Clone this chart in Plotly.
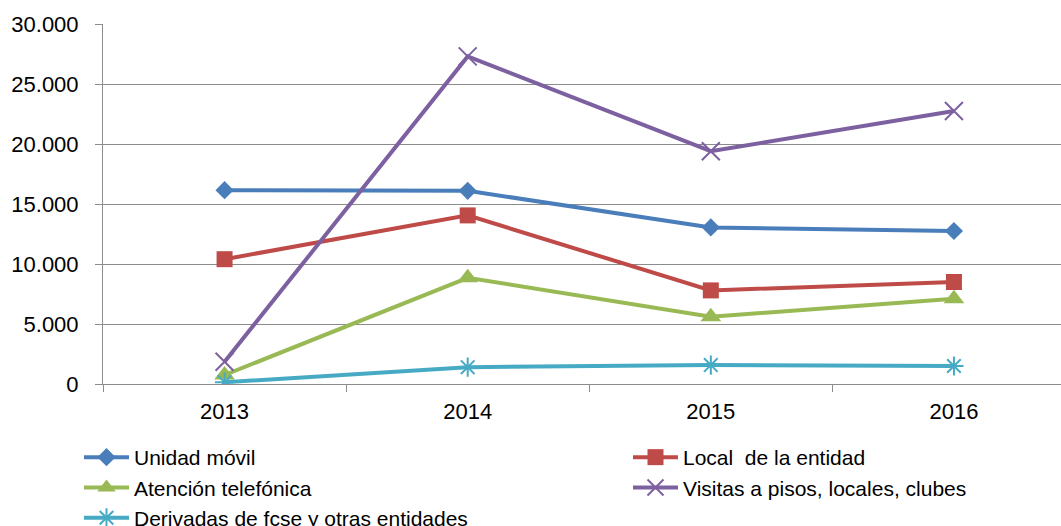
import plotly.graph_objects as go

# Yearly counts per contact channel
years = ["2013", "2014", "2015", "2016"]
unidad_movil = [16150, 16100, 13050, 12750]
local_entidad = [10400, 14050, 7800, 8500]
atencion_telefonica = [750, 8850, 5600, 7100]
visitas_pisos = [1850, 27300, 19400, 22750]
derivadas = [150, 1400, 1580, 1500]

# name, values, colour, marker symbol, marker size, legend column
series = [
    ("Unidad móvil", unidad_movil, "#4A7EBB", "diamond", 14, "legend"),
    ("Local  de la entidad", local_entidad, "#BE4B48", "square", 16, "legend2"),
    ("Atención telefónica", atencion_telefonica, "#98B954", "triangle-up", 18, "legend"),
    ("Visitas a pisos, locales, clubes", visitas_pisos, "#7D60A0", "x-thin", 18, "legend2"),
    ("Derivadas de fcse y otras entidades", derivadas, "#46AAC5", "asterisk", 16, "legend"),
]

xpos = list(range(len(years)))

fig = go.Figure()
for name, vals, color, symbol, size, leg in series:
    open_marker = symbol in ("x-thin", "asterisk")
    fig.add_trace(go.Scatter(
        x=xpos, y=vals, name=name, mode="lines+markers", legend=leg,
        line=dict(color=color, width=4),
        marker=dict(symbol=symbol, size=size, color=color,
                    line=dict(color=color, width=2 if open_marker else 0)),
    ))

font = "Liberation Sans, Arial, sans-serif"
grid = "#8C8C8C"
W, H = 1061, 526

legend_common = dict(
    orientation="v", xref="container", yref="container",
    xanchor="left", yanchor="top", itemwidth=45, tracegroupgap=0,
    font=dict(family=font, size=21, color="#000000"),
    bgcolor="rgba(0,0,0,0)", traceorder="normal",
)

fig.update_layout(
    width=W, height=H,
    margin=dict(l=103, r=0, t=24, b=142, autoexpand=False),
    paper_bgcolor="white", plot_bgcolor="white",
    separators=",.",
    font=dict(family=font, size=22, color="#000000"),
    showlegend=True,
    legend=dict(legend_common, x=79 / W, y=1 - 437 / H),
    legend2=dict(legend_common, x=628 / W, y=1 - 437 / H),
    xaxis=dict(
        range=[-0.5, -0.5 + 957.5 / 243],
        tickvals=xpos, ticktext=years,
        ticks="", showgrid=False, zeroline=False,
        showline=True, linecolor=grid, linewidth=1,
        ticklabelstandoff=8,
        minor=dict(tick0=0.5, dtick=1, ticks="outside", ticklen=7,
                   tickcolor=grid, showgrid=False),
        tickfont=dict(family=font, size=22, color="#000000"),
    ),
    yaxis=dict(
        range=[0, 30000], dtick=5000, tickformat=",.0f",
        showgrid=True, gridcolor=grid, gridwidth=1,
        zeroline=False, showline=True, linecolor=grid, linewidth=1,
        ticks="outside", ticklen=7, tickcolor=grid,
        ticklabelstandoff=12,
        tickfont=dict(family=font, size=22, color="#000000"),
    ),
)

fig.write_html("out.html")
